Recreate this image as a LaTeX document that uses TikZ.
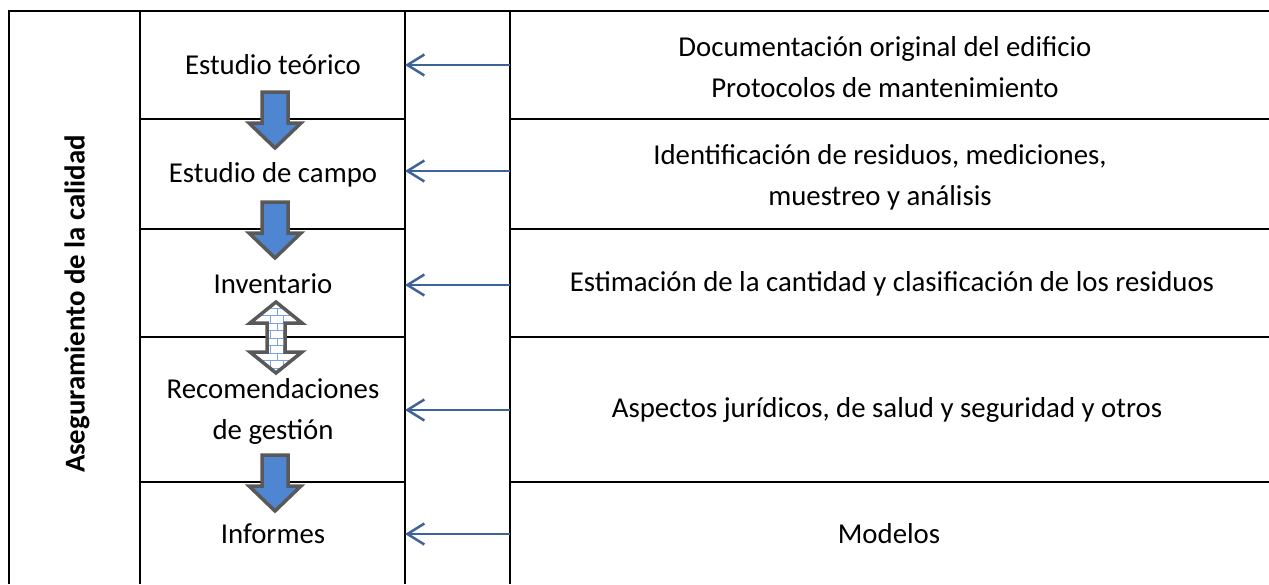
\documentclass[tikz,border=0pt]{standalone}
\usepackage{fontspec}
\setmainfont{Carlito}
\usepackage{xcolor}
\usetikzlibrary{arrows.meta}
\definecolor{feedblue}{RGB}{61,99,152}
\definecolor{flowblue}{RGB}{79,134,210}
\definecolor{flowgray}{RGB}{89,89,89}
\definecolor{brickblue}{RGB}{120,165,225}

\begin{document}
\begin{tikzpicture}[x=1pt,y=-1pt,
  every node/.style={font=\fontsize{28.8}{41}\selectfont,align=center,inner sep=0pt},
  grid/.style={line width=2pt},
  feed/.style={feedblue,line width=2.5pt,-{Straight Barb[length=17pt,width=21pt]}},
  flow/.style={draw=flowgray,line width=3.5pt,fill=flowblue,line join=miter},
  swap/.style={draw=flowgray,line width=3.5pt,line join=miter},
  brick/.style={brickblue,line width=1pt},
  flowdown/.pic={\draw[flow] (-13,0) -- (-13,31) -- (-26,31) -- (0,56) -- (26,31) -- (13,31) -- (13,0) -- cycle;},
  flowboth/.pic={
    \fill[white] (0,0) -- (26,21) -- (9,21) -- (9,50) -- (26,50) -- (0,71) -- (-26,50) -- (-9,50) -- (-9,21) -- (-26,21) -- cycle;
    \begin{scope}
      \clip (0,0) -- (26,21) -- (9,21) -- (9,50) -- (26,50) -- (0,71) -- (-26,50) -- (-9,50) -- (-9,21) -- (-26,21) -- cycle;
      \foreach \h in {6,13.5,...,66} \draw[brick] (-26,\h) -- (26,\h);
      \foreach \h in {6,21,...,66} \draw[brick] (1,\h) -- (1,\h+7.5);
      \foreach \h in {-1.5,13.5,...,66} \draw[brick] (-6,\h) -- (-6,\h+7.5) (7,\h) -- (7,\h+7.5);
    \end{scope}
    \draw[swap] (0,0) -- (26,21) -- (9,21) -- (9,50) -- (26,50) -- (0,71) -- (-26,50) -- (-9,50) -- (-9,21) -- (-26,21) -- cycle;}]
\useasboundingbox (0,0) rectangle (1269,584);

% table
\draw[grid] (9,584) -- (9,11) -- (1269,11);
\draw[grid] (140,11) -- (140,584);
\draw[grid] (405,11) -- (405,584);
\draw[grid] (510,11) -- (510,584);
\draw[grid] (140,119) -- (405,119);
\draw[grid] (510,119) -- (1269,119);
\draw[grid] (140,229) -- (405,229);
\draw[grid] (510,229) -- (1269,229);
\draw[grid] (140,337) -- (405,337);
\draw[grid] (510,337) -- (1269,337);
\draw[grid] (140,482) -- (405,482);
\draw[grid] (510,482) -- (1269,482);

% stages
\node (e1) at (273,65) {Estudio teórico};
\node (e2) at (273,175) {Estudio de campo};
\node (e3) at (273,284) {Inventario};
\node (e4) at (273,411) {Recomendaciones\\de gestión};
\node (e5) at (273,534) {Informes};

\node (q) at (77,304) [rotate=90] {\bfseries Aseguramiento de la calidad};

% inputs
\node (d1) at (885,67) {Documentación original del edificio\\Protocolos de mantenimiento};
\node (d2) at (880,177) {Identificación de residuos, mediciones,\\muestreo y análisis};
\node (d3) at (892,284) {Estimación de la cantidad y clasificación de los residuos};
\node (d4) at (887,410) {Aspectos jurídicos, de salud y seguridad y otros};
\node (d5) at (889,534) {Modelos};

\coordinate (r1) at (510,65);
\coordinate (l1) at (405,65);
\coordinate (r2) at (510,171);
\coordinate (l2) at (405,171);
\coordinate (r3) at (510,285);
\coordinate (l3) at (405,285);
\coordinate (r4) at (510,410);
\coordinate (l4) at (405,410);
\coordinate (r5) at (510,534);
\coordinate (l5) at (405,534);
\draw[feed] (r1) -- (l1);
\draw[feed] (r2) -- (l2);
\draw[feed] (r3) -- (l3);
\draw[feed] (r4) -- (l4);
\draw[feed] (r5) -- (l5);

% flow between stages
\pic at (275,92) {flowdown};
\pic at (275,202) {flowdown};
\pic at (276,302) {flowboth};
\pic at (275,455) {flowdown};
\end{tikzpicture}
\end{document}
